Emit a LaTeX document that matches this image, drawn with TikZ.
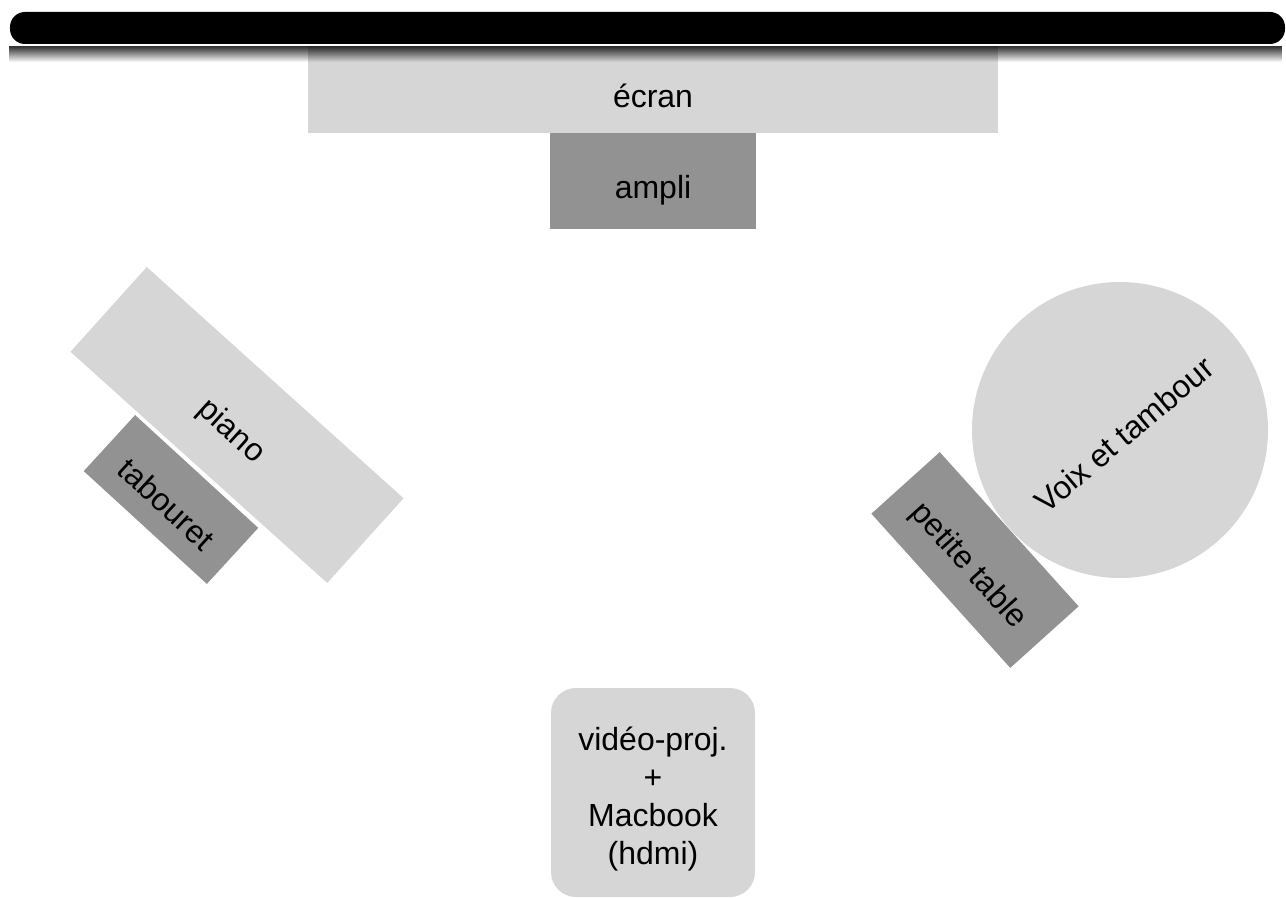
\documentclass[tikz,border=0pt]{standalone}
\usepackage{fontspec}
\setmainfont{Liberation Sans}
\usetikzlibrary{fadings,shapes.geometric}
\definecolor{lightgrey}{RGB}{214,214,214}
\definecolor{darkgrey}{RGB}{146,146,146}

\begin{document}
\begin{tikzpicture}[font=\fontsize{18.2}{21.5}\selectfont,
  furniture/.style={rectangle,fill=lightgrey,text height=23pt,text depth=3pt},
  smallbox/.style={rectangle,fill=darkgrey,text height=23pt,text depth=3pt}]
\useasboundingbox (0,0) rectangle (25.72,-17.96);

% Front: screen and amp
\path
(13.06,-1.79)   node[furniture, minimum width=13.8cm, minimum height=1.74cm] (ecran) {écran}
(13.06,-3.62)   node[smallbox, minimum width=4.12cm, minimum height=1.92cm] (ampli) {ampli}
;

% Top bar
\fill[black, rounded corners=0.3cm] (0.2,-0.24) rectangle (25.70,-0.88);
\fill[black, fill opacity=.8, path fading=south] (0.2,-0.93) rectangle (25.70,-1.24);

% Left: piano
\path
(4.74,-8.5)     node[furniture, minimum width=6.91cm, minimum height=2.28cm, rotate=-42] (piano) {piano}
(3.42,-9.99)    node[smallbox, minimum width=3.34cm, minimum height=1.52cm, rotate=-42.5] (tabouret) {tabouret}
;

% Right: voice and drum
\path
(22.4,-8.6)     node[circle, fill=lightgrey, minimum size=5.92cm, inner sep=0pt, rotate=40,
                     text height=23pt, text depth=3pt] (voix) {Voix et tambour}
(19.5,-11.2)    node[smallbox, minimum width=4.15cm, minimum height=1.84cm, rotate=-48] (table) {petite table}
;

% Back: projector
\node[rectangle, rounded corners=0.5cm, fill=lightgrey, align=center,
      minimum width=4.08cm, minimum height=4.18cm] (proj) at (13.06,-15.85)
      {\rule{0pt}{21pt}vidéo-proj.\\+\\Macbook\\(hdmi)};

\end{tikzpicture}
\end{document}
